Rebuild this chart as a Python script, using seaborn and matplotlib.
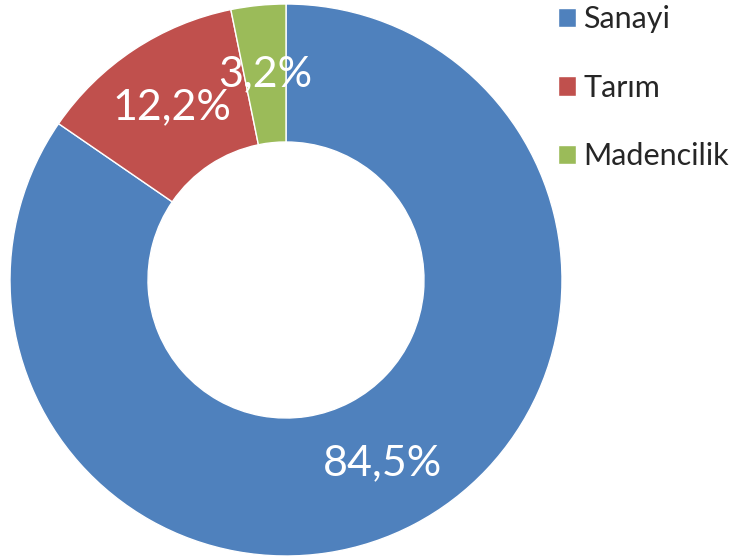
import numpy as np
import matplotlib
matplotlib.use('Agg')
import matplotlib.pyplot as plt
import seaborn as sns

# data
sektorler = ['Sanayi', 'Tarım', 'Madencilik']
paylar = [84.5, 12.2, 3.2]
etiketler = ['84,5%', '12,2%', '3,2%']
renkler = sns.color_palette(['#4F81BD', '#C0504D', '#9BBB59'])

sns.set_theme(style='white')
plt.rcParams['font.family'] = ['Lato', 'DejaVu Sans']

fig = plt.figure(figsize=(7.29, 5.59), dpi=100)
ax = fig.add_axes([10 / 729, 3 / 559, 552 / 729, 552 / 559])

wedges, _ = ax.pie(paylar, colors=renkler, startangle=90, counterclock=False,
                   radius=1, wedgeprops=dict(width=0.5, edgecolor='white', linewidth=1))

# yuzde etiketleri halkanin ortasina
for w, txt in zip(wedges, etiketler):
    ang = np.deg2rad((w.theta1 + w.theta2) / 2)
    ax.text(0.75 * np.cos(ang), 0.75 * np.sin(ang), txt, color='white',
            fontsize=31, ha='center', va='center')

ax.set_xlim(-1, 1)
ax.set_ylim(-1, 1)
ax.set_aspect('equal')
ax.axis('off')

fig.legend(wedges, sektorler, loc='upper left', bbox_to_anchor=(558 / 729, 1 - 5 / 559),
           frameon=False, fontsize=22, borderpad=0, borderaxespad=0, labelspacing=1.33,
           handlelength=0.6, handleheight=0.6, handletextpad=0.22)

fig.savefig('out.png', dpi=100)
